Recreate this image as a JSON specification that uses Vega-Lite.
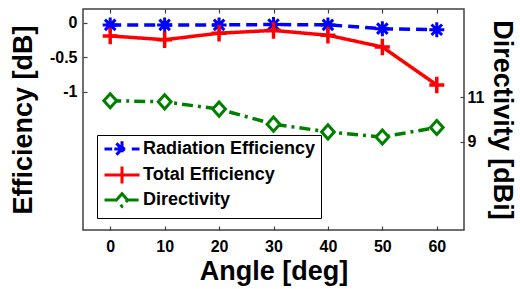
{
  "$schema": "https://vega.github.io/schema/vega-lite/v6.json",
  "width": 381,
  "height": 221,
  "autosize": {"type": "none"},
  "padding": {"left": 83, "top": 9, "right": 56, "bottom": 59},
  "background": "white",
  "config": {
    "view": {"stroke": "#404040", "strokeWidth": 1.5},
    "font": "Liberation Sans",
    "axis": {
      "labelFont": "Liberation Sans",
      "labelFontWeight": "bold",
      "labelFontSize": 16,
      "labelColor": "black",
      "titleFont": "Liberation Sans",
      "titleFontWeight": "bold",
      "titleFontSize": 27,
      "titleColor": "black",
      "grid": false,
      "domain": false,
      "tickColor": "#404040",
      "tickWidth": 1.2,
      "tickSize": -4
    }
  },
  "data": {
    "values": [
      {"angle": 0, "series": "Radiation Efficiency", "value": -0.03},
      {"angle": 10, "series": "Radiation Efficiency", "value": -0.03},
      {"angle": 20, "series": "Radiation Efficiency", "value": -0.03},
      {"angle": 30, "series": "Radiation Efficiency", "value": -0.025},
      {"angle": 40, "series": "Radiation Efficiency", "value": -0.03},
      {"angle": 50, "series": "Radiation Efficiency", "value": -0.085},
      {"angle": 60, "series": "Radiation Efficiency", "value": -0.1},
      {"angle": 0, "series": "Total Efficiency", "value": -0.19},
      {"angle": 10, "series": "Total Efficiency", "value": -0.245},
      {"angle": 20, "series": "Total Efficiency", "value": -0.15},
      {"angle": 30, "series": "Total Efficiency", "value": -0.11},
      {"angle": 40, "series": "Total Efficiency", "value": -0.18},
      {"angle": 50, "series": "Total Efficiency", "value": -0.35},
      {"angle": 60, "series": "Total Efficiency", "value": -0.9},
      {"angle": 0, "series": "Directivity", "value": 10.85},
      {"angle": 10, "series": "Directivity", "value": 10.8},
      {"angle": 20, "series": "Directivity", "value": 10.47},
      {"angle": 30, "series": "Directivity", "value": 9.79},
      {"angle": 40, "series": "Directivity", "value": 9.44},
      {"angle": 50, "series": "Directivity", "value": 9.21},
      {"angle": 60, "series": "Directivity", "value": 9.64}
    ]
  },
  "layer": [
    {
      "transform": [{"filter": "datum.series != 'Directivity'"}],
      "encoding": {
        "x": {
          "field": "angle", "type": "quantitative",
          "scale": {"domain": [-5, 65], "nice": false, "zero": false},
          "axis": {"values": [0, 10, 20, 30, 40, 50, 60], "title": "Angle [deg]", "labelPadding": 12, "titlePadding": 4}
        },
        "y": {
          "field": "value", "type": "quantitative",
          "scale": {"domain": [-3, 0.2], "nice": false, "zero": false},
          "axis": {"orient": "left", "values": [0, -0.5, -1], "labelExpr": "'' + datum.value", "title": "Efficiency [dB]", "labelPadding": 10, "titlePadding": 12}
        },
        "color": {
          "field": "series", "type": "nominal",
          "scale": {"domain": ["Radiation Efficiency", "Total Efficiency", "Directivity"], "range": ["#0000ff", "#ff0000", "#008000"]},
          "legend": {
            "title": null,
            "orient": "none",
            "legendX": 14,
            "legendY": 126,
            "strokeColor": "black",
            "fillColor": "white",
            "padding": 5,
            "labelFont": "Liberation Sans",
            "labelFontWeight": "bold",
            "labelFontSize": 18,
            "labelColor": "black",
            "labelLimit": 400,
            "symbolSize": 196,
            "symbolOffset": 11,
            "labelOffset": 12,
            "rowPadding": -3,
            "symbolStrokeWidth": 3,
            "symbolOpacity": 1,
            "symbolDash": [1, 0]
          }
        }
      },
      "layer": [
        {
          "mark": {"type": "line", "strokeWidth": 3.5},
          "encoding": {
            "strokeDash": {
              "field": "series", "type": "nominal",
              "scale": {"domain": ["Radiation Efficiency", "Total Efficiency", "Directivity"], "range": [[11, 6], [1, 0], [11, 5, 3, 5]]},
              "legend": null
            }
          }
        },
        {
          "transform": [{"filter": "datum.series == 'Radiation Efficiency'"}],
          "mark": {"type": "point", "filled": false, "strokeWidth": 3, "size": 225, "opacity": 1, "shape": "M-1,0L1,0M0,-1L0,1M-0.7,-0.7L0.7,0.7M-0.7,0.7L0.7,-0.7"}
        },
        {
          "transform": [{"filter": "datum.series == 'Total Efficiency'"}],
          "mark": {"type": "point", "filled": false, "strokeWidth": 3.5, "size": 225, "opacity": 1, "shape": "M-1,0L1,0M0,-1.1L0,1.1"}
        },
        {
          "mark": {"type": "point", "filled": false, "strokeWidth": 3, "opacity": 0},
          "encoding": {
            "shape": {
              "field": "series", "type": "nominal",
              "scale": {"domain": ["Radiation Efficiency", "Total Efficiency", "Directivity"], "range": ["M-2.5,0L-1.4,0M-1.1,0L1.1,0M1.4,0L2.5,0M0,-1.1L0,1.1M-0.8,-0.8L0.8,0.8M-0.8,0.8L0.8,-0.8", "M-2.5,0L2.5,0M0,-1.2L0,1.2", "M-2.5,0L-0.8,0M0.8,0L2.5,0M0,-0.9L0.8,0L0,0.9L-0.8,0Z"]},
              "legend": {
                "title": null,
                "orient": "none",
                "legendX": 14,
                "legendY": 126,
                "strokeColor": "black",
                "fillColor": "white",
                "padding": 5,
                "labelFont": "Liberation Sans",
                "labelFontWeight": "bold",
                "labelFontSize": 18,
                "labelColor": "black",
                "labelLimit": 400,
                "symbolSize": 196,
                "symbolOffset": 11,
                "labelOffset": 12,
                "rowPadding": -3,
                "symbolStrokeWidth": 3,
                "symbolOpacity": 1,
                "symbolDash": [1, 0]
              }
            }
          }
        }
      ]
    },
    {
      "transform": [{"filter": "datum.series == 'Directivity'"}],
      "encoding": {
        "x": {
          "field": "angle", "type": "quantitative",
          "scale": {"domain": [-5, 65], "nice": false, "zero": false},
          "axis": {"orient": "top", "values": [0, 10, 20, 30, 40, 50, 60], "labels": false, "title": null}
        },
        "y": {
          "field": "value", "type": "quantitative",
          "scale": {"domain": [5, 15], "nice": false, "zero": false},
          "axis": {"orient": "right", "values": [9, 11], "title": "Directivity [dBi]", "labelPadding": 7, "titlePadding": 4}
        },
        "color": {
          "field": "series", "type": "nominal",
          "scale": {"domain": ["Radiation Efficiency", "Total Efficiency", "Directivity"], "range": ["#0000ff", "#ff0000", "#008000"]}
        }
      },
      "layer": [
        {
          "mark": {"type": "line", "strokeWidth": 3.5},
          "encoding": {
            "strokeDash": {
              "field": "series", "type": "nominal",
              "scale": {"domain": ["Radiation Efficiency", "Total Efficiency", "Directivity"], "range": [[11, 6], [1, 0], [11, 5, 3, 5]]},
              "legend": null
            }
          }
        },
        {
          "mark": {"type": "point", "filled": false, "fill": "white", "strokeWidth": 3, "size": 200, "opacity": 1, "shape": "M0,-1L0.9,0L0,1L-0.9,0Z"}
        }
      ]
    }
  ],
  "resolve": {"scale": {"y": "independent"}, "axis": {"x": "independent"}}
}
